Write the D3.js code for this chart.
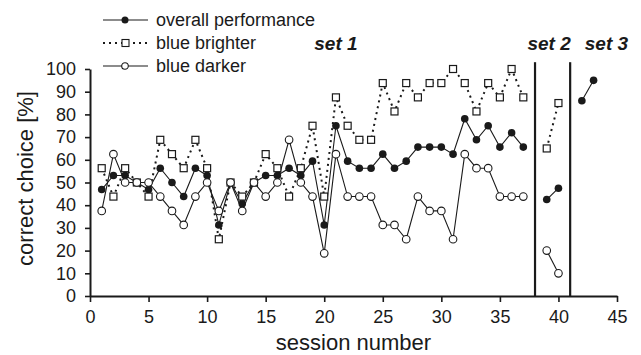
<!DOCTYPE html>
<html>
<head>
<meta charset="utf-8">
<script src="https://cdn.jsdelivr.net/npm/d3@7"></script>
<style>
  body { margin: 0; background: #fff; }
  svg { display: block; font-family: "Liberation Sans", Arial, sans-serif; }
</style>
</head>
<body>
<svg id="chart" width="641" height="355"></svg>
<script>
// session numbers of each set
const set1Sessions = [1, 2, 3, 4, 5, 6, 7, 8, 9, 10, 11, 12, 13, 14, 15, 16, 17, 18, 19,
  20, 21, 22, 23, 24, 25, 26, 27, 28, 29, 30, 31, 32, 33, 34, 35, 36, 37];
const set2Sessions = [39, 40];
const set3Sessions = [42, 43];

// correct choice [%], set 1
const overall1 = [46.9, 53.1, 53.1, 50, 46.9, 56.3, 50, 43.8, 56.3, 53.1, 31.3, 50, 40.6, 50,
  53.1, 53.1, 56.3, 53.1, 59.4, 31.3, 75, 59.4, 56.3, 56.3, 62.5, 56.3, 59.4, 65.6, 65.6,
  65.6, 62.5, 78.1, 68.8, 75, 65.6, 71.9, 65.6];
const brighter1 = [56.3, 43.8, 56.3, 50, 43.8, 68.8, 62.5, 56.3, 68.8, 56.3, 25, 50, 43.8, 50,
  62.5, 56.3, 43.8, 56.3, 75, 43.8, 87.5, 75, 68.8, 68.8, 93.8, 81.3, 93.8, 87.5, 93.8,
  93.8, 100, 93.8, 81.3, 93.8, 87.5, 100, 87.5];
const darker1 = [37.5, 62.5, 50, 50, 50, 43.8, 37.5, 31.3, 43.8, 50, 37.5, 50, 37.5, 50,
  43.8, 50, 68.8, 50, 43.8, 18.8, 62.5, 43.8, 43.8, 43.8, 31.3, 31.3, 25, 43.8, 37.5,
  37.5, 25, 62.5, 56.3, 56.3, 43.8, 43.8, 43.8];

// set 2 and set 3
const overall2 = [42.5, 47.5];
const brighter2 = [65, 85];
const darker2 = [20, 10];
const overall3 = [86, 95];

const xTicks = [0, 5, 10, 15, 20, 25, 30, 35, 40, 45];
const yTicks = [0, 10, 20, 30, 40, 50, 60, 70, 80, 90, 100];
const setBreaks = [38, 41];
const setNames = ['set 1', 'set 2', 'set 3'];
const legendNames = ['overall performance', 'blue brighter', 'blue darker'];

const ink = '#1a1a1a';
const svg = d3.select('#chart');

const x = d3.scaleLinear().domain([0, 45]).range([90, 617]);
const y = d3.scaleLinear().domain([0, 100]).range([296, 69]);

const pts = (xs, ys) => xs.map((s, i) => ({s: s, v: ys[i]}));
const line = d3.line().x(d => x(d.s)).y(d => y(d.v));

// axes
const yAxis = svg.append('g')
  .attr('transform', `translate(${x(0)},0)`)
  .call(d3.axisLeft(y).tickValues(yTicks).tickSize(5).tickPadding(9).tickSizeOuter(0));
const xAxis = svg.append('g')
  .attr('transform', `translate(0,${y(0)})`)
  .call(d3.axisBottom(x).tickValues(xTicks).tickSize(6).tickPadding(8).tickSizeOuter(0));

[xAxis, yAxis].forEach(g => {
  g.select('.domain').attr('stroke', ink).attr('stroke-width', 2);
  g.selectAll('.tick line').attr('stroke', ink).attr('stroke-width', 1.6);
  g.selectAll('.tick text')
    .attr('fill', ink)
    .style('font-size', '18px')
    .style('font-family', '"Liberation Sans", Arial, sans-serif');
});

// axis titles
svg.append('text')
  .attr('x', (x(0) + x(45)) / 2)
  .attr('y', 350)
  .attr('text-anchor', 'middle')
  .attr('fill', ink)
  .style('font-size', '22px')
  .text('session number');

svg.append('text')
  .attr('transform', `translate(33,${(y(0) + y(100)) / 2 - 4}) rotate(-90)`)
  .attr('text-anchor', 'middle')
  .attr('fill', ink)
  .style('font-size', '22px')
  .text('correct choice [%]');

// set separators
svg.selectAll('.sep')
  .data(setBreaks)
  .enter().append('line')
  .attr('class', 'sep')
  .attr('x1', d => x(d)).attr('x2', d => x(d))
  .attr('y1', y(103)).attr('y2', y(0))
  .attr('stroke', ink)
  .attr('stroke-width', 2.2);

// set labels
const setLabelAt = [21, 39.2, 44.1];
svg.selectAll('.setlabel')
  .data(setNames)
  .enter().append('text')
  .attr('class', 'setlabel')
  .attr('x', (d, i) => x(setLabelAt[i]))
  .attr('y', 50)
  .attr('text-anchor', 'middle')
  .attr('fill', ink)
  .style('font-size', '19px')
  .style('font-weight', 'bold')
  .style('font-style', 'italic')
  .text(d => d);

// series groups
const solid = [pts(set1Sessions, overall1), pts(set2Sessions, overall2), pts(set3Sessions, overall3),
  pts(set1Sessions, darker1), pts(set2Sessions, darker2)];
const dotted = [pts(set1Sessions, brighter1), pts(set2Sessions, brighter2)];

svg.selectAll('.solid')
  .data(solid)
  .enter().append('path')
  .attr('class', 'solid')
  .attr('d', line)
  .attr('fill', 'none')
  .attr('stroke', ink)
  .attr('stroke-width', 1.1);

svg.selectAll('.dotted')
  .data(dotted)
  .enter().append('path')
  .attr('class', 'dotted')
  .attr('d', line)
  .attr('fill', 'none')
  .attr('stroke', ink)
  .attr('stroke-width', 2)
  .attr('stroke-dasharray', '2,4');

const filledPts = [].concat(pts(set1Sessions, overall1), pts(set2Sessions, overall2), pts(set3Sessions, overall3));
const squarePts = [].concat(pts(set1Sessions, brighter1), pts(set2Sessions, brighter2));
const circlePts = [].concat(pts(set1Sessions, darker1), pts(set2Sessions, darker2));

svg.selectAll('.filled')
  .data(filledPts)
  .enter().append('circle')
  .attr('class', 'filled')
  .attr('cx', d => x(d.s)).attr('cy', d => y(d.v))
  .attr('r', 3.8)
  .attr('fill', ink);

svg.selectAll('.square')
  .data(squarePts)
  .enter().append('rect')
  .attr('class', 'square')
  .attr('x', d => x(d.s) - 3.5).attr('y', d => y(d.v) - 3.5)
  .attr('width', 7).attr('height', 7)
  .attr('fill', '#fff')
  .attr('stroke', ink)
  .attr('stroke-width', 1.2);

svg.selectAll('.open')
  .data(circlePts)
  .enter().append('circle')
  .attr('class', 'open')
  .attr('cx', d => x(d.s)).attr('cy', d => y(d.v))
  .attr('r', 3.8)
  .attr('fill', '#fff')
  .attr('stroke', ink)
  .attr('stroke-width', 1.1);

// legend
const legend = svg.append('g').attr('transform', 'translate(103,20)');
const rows = legend.selectAll('.row')
  .data(legendNames)
  .enter().append('g')
  .attr('transform', (d, i) => `translate(0,${i * 23})`);

rows.append('line')
  .attr('x1', 0).attr('x2', 45)
  .attr('stroke', ink)
  .attr('stroke-width', (d, i) => i === 1 ? 2 : 1.1)
  .attr('stroke-dasharray', (d, i) => i === 1 ? '2,4' : null);

rows.each(function(d, i) {
  const g = d3.select(this);
  if (i === 0) {
    g.append('circle').attr('cx', 22).attr('r', 3.5).attr('fill', ink);
  } else if (i === 1) {
    g.append('rect').attr('x', 19).attr('y', -3.5).attr('width', 7).attr('height', 7)
      .attr('fill', '#fff').attr('stroke', ink).attr('stroke-width', 1.1);
  } else {
    g.append('circle').attr('cx', 22).attr('r', 3.3)
      .attr('fill', '#fff').attr('stroke', ink).attr('stroke-width', 1.1);
  }
});

rows.append('text')
  .attr('x', 53)
  .attr('dy', '0.35em')
  .attr('fill', ink)
  .style('font-size', '18px')
  .text(d => d);
</script>
</body>
</html>
